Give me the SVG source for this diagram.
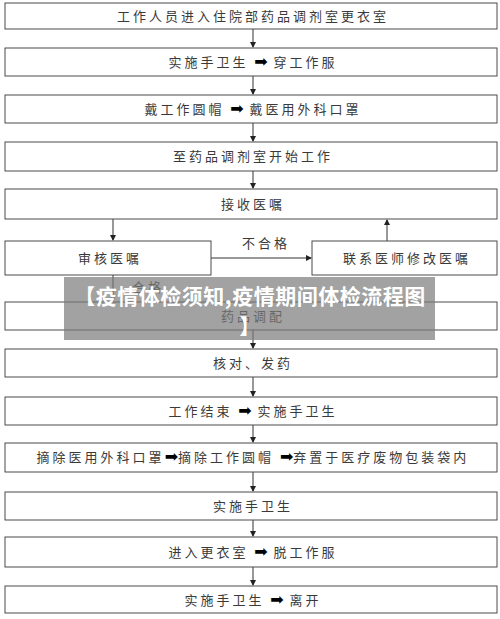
<svg xmlns="http://www.w3.org/2000/svg" width="500" height="619" viewBox="0 0 500 619">
<style>
.box{fill:#fff;stroke:#4a4a4a;stroke-width:1}
.t{font-family:"Noto Sans CJK SC","DejaVu Sans",sans-serif;font-size:13px;fill:#3a3a3a;text-anchor:middle;letter-spacing:3px}
.ar{font-family:"DejaVu Sans",sans-serif;font-size:16px;fill:#000;letter-spacing:0}
.ln{stroke:#333;stroke-width:1;fill:none}
.ban{font-family:"Noto Sans CJK SC",sans-serif;font-size:21px;font-weight:bold;fill:#fff;text-anchor:middle;letter-spacing:0.5px}
</style>
<defs>
<marker id="ah" markerWidth="6" markerHeight="6" refX="5" refY="3" orient="auto" markerUnits="userSpaceOnUse">
<path d="M0,0 L6,3 L0,6 Z" fill="#222"/>
</marker>
</defs>
<rect width="500" height="619" fill="#fff"/>
<g id="connectors">
<line class="ln" x1="253" y1="29" x2="253" y2="47" marker-end="url(#ah)"/>
<line class="ln" x1="253" y1="76" x2="253" y2="94" marker-end="url(#ah)"/>
<line class="ln" x1="253" y1="123" x2="253" y2="141" marker-end="url(#ah)"/>
<line class="ln" x1="253" y1="171" x2="253" y2="188" marker-end="url(#ah)"/>
<line class="ln" x1="113" y1="219" x2="113" y2="240" marker-end="url(#ah)"/>
<line class="ln" x1="211" y1="258" x2="311" y2="258" marker-end="url(#ah)"/>
<line class="ln" x1="387" y1="241" x2="387" y2="220" marker-end="url(#ah)"/>
<line class="ln" x1="113" y1="275" x2="113" y2="301" marker-end="url(#ah)"/>
<line class="ln" x1="253" y1="330" x2="253" y2="348" marker-end="url(#ah)"/>
<line class="ln" x1="253" y1="377" x2="253" y2="396" marker-end="url(#ah)"/>
<line class="ln" x1="253" y1="425" x2="253" y2="442" marker-end="url(#ah)"/>
<line class="ln" x1="253" y1="472" x2="253" y2="491" marker-end="url(#ah)"/>
<line class="ln" x1="253" y1="520" x2="253" y2="536" marker-end="url(#ah)"/>
<line class="ln" x1="253" y1="567" x2="253" y2="585" marker-end="url(#ah)"/>
<text class="t" x="266" y="248">不合格</text>
<text class="t" x="148" y="292">合格</text>
</g>
<g id="n1"><rect class="box" x="5" y="3" width="492" height="26"/><text class="t" x="253" y="21">工作人员进入住院部药品调剂室更衣室</text></g>
<g id="n2"><rect class="box" x="5" y="48" width="492" height="28"/><text class="t" x="253" y="67">实施手卫生 <tspan class="ar">➡</tspan> 穿工作服</text></g>
<g id="n3"><rect class="box" x="5" y="95" width="492" height="28"/><text class="t" x="253" y="114">戴工作圆帽 <tspan class="ar">➡</tspan> 戴医用外科口罩</text></g>
<g id="n4"><rect class="box" x="5" y="142" width="492" height="29"/><text class="t" x="253" y="161">至药品调剂室开始工作</text></g>
<g id="n5"><rect class="box" x="5" y="189" width="492" height="30"/><text class="t" x="253" y="209">接收医嘱</text></g>
<g id="n6"><rect class="box" x="5" y="241" width="206" height="34"/><text class="t" x="110" y="263">审核医嘱</text></g>
<g id="n7"><rect class="box" x="312" y="241" width="185" height="34"/><text class="t" x="407" y="263">联系医师修改医嘱</text></g>
<g id="n8"><rect class="box" x="5" y="302" width="492" height="28"/><text class="t" x="253" y="321">药品调配</text></g>
<g id="n9"><rect class="box" x="5" y="349" width="492" height="28"/><text class="t" x="253" y="368">核对、发药</text></g>
<g id="n10"><rect class="box" x="5" y="397" width="492" height="28"/><text class="t" x="253" y="416">工作结束 <tspan class="ar">➡</tspan> 实施手卫生</text></g>
<g id="n11"><rect class="box" x="5" y="443" width="492" height="29"/><text class="t" x="253" y="462">摘除医用外科口罩<tspan class="ar">➡</tspan>摘除工作圆帽 <tspan class="ar">➡</tspan>弃置于医疗废物包装袋内</text></g>
<g id="n12"><rect class="box" x="5" y="492" width="492" height="28"/><text class="t" x="253" y="511">实施手卫生</text></g>
<g id="n13"><rect class="box" x="5" y="537" width="492" height="30"/><text class="t" x="253" y="557">进入更衣室 <tspan class="ar">➡</tspan> 脱工作服</text></g>
<g id="n14"><rect class="box" x="5" y="586" width="492" height="27"/><text class="t" x="253" y="605">实施手卫生 <tspan class="ar">➡</tspan> 离开</text></g>
<g id="banner">
<rect x="64" y="277" width="371" height="63" fill="#7a7a7a" opacity="0.7"/>
<text class="ban" x="250" y="304">【疫情体检须知,疫情期间体检流程图</text>
<text class="ban" x="250" y="334">】</text>
</g>
</svg>
